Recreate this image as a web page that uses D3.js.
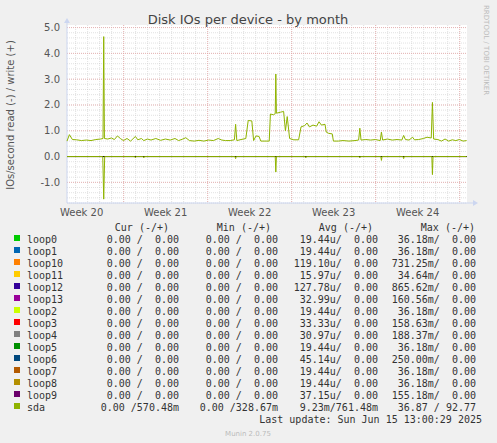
<!DOCTYPE html>
<html>
<head>
<meta charset="utf-8">
<script src="https://cdn.jsdelivr.net/npm/d3@7"></script>
<style>
  body { margin: 0; background: #f0f0f0; }
  svg { display: block; }
  .mono { font-family: "DejaVu Sans Mono", monospace; font-size: 10px; fill: #333; white-space: pre; }
</style>
</head>
<body>
<svg id="chart" width="497" height="443"></svg>
<script>
// sda write (+) in IOs/s, [day offset, value]
const writeSeries = [
  [0,0.6],[0.2,0.85],[0.45,0.66],[0.8,0.65],[1.2,0.62],[1.6,0.64],[2.0,0.62],[2.4,0.66],[2.8,0.68],
  [3.0,0.7],[3.06,4.65],[3.12,0.7],[3.4,0.68],[3.7,0.72],[3.95,0.66],[4.2,0.8],[4.45,0.7],[4.7,0.62],
  [5.0,0.7],[5.3,0.6],[5.7,0.78],[5.9,0.65],[6.2,0.7],[6.4,0.62],[6.7,0.68],[7.0,0.64],[7.4,0.7],
  [7.8,0.63],[8.2,0.68],[8.6,0.64],[9.0,0.7],[9.3,0.62],[9.6,0.67],[9.9,0.73],[10.2,0.62],[10.6,0.6],
  [11.0,0.63],[11.4,0.6],[11.8,0.64],[12.2,0.62],[12.6,0.7],[12.9,0.64],[13.2,0.62],[13.6,0.62],
  [13.95,0.65],[14.05,1.25],[14.15,0.62],[14.5,0.66],[14.9,0.7],[15.1,1.4],[15.4,1.38],[15.55,0.62],
  [15.75,0.8],[16.0,0.78],[16.15,0.6],[16.5,0.6],[16.85,0.6],[16.95,1.65],[17.2,1.62],[17.35,1.66],
  [17.4,3.2],[17.45,1.68],[17.8,1.72],[18.05,1.75],[18.2,1.0],[18.35,1.55],[18.55,0.7],[18.9,0.65],
  [19.3,0.65],[19.5,1.15],[19.8,1.2],[20.0,1.3],[20.2,1.15],[20.5,1.22],[20.8,1.18],[21.0,1.35],
  [21.2,1.22],[21.5,1.25],[21.6,0.95],[21.8,0.9],[22.1,0.88],[22.2,0.6],[22.6,0.6],[23.0,0.62],
  [23.5,0.6],[24.0,0.62],[24.3,0.64],[24.4,1.1],[24.5,0.64],[24.9,0.66],[25.3,0.64],[25.7,0.66],
  [26.1,0.62],[26.2,0.95],[26.3,0.64],[26.7,0.68],[27.1,0.64],[27.5,0.66],[27.9,0.64],[28.05,0.82],
  [28.2,0.66],[28.5,0.64],[28.8,0.75],[28.95,0.65],[29.3,0.66],[29.7,0.7],[30.0,0.75],[30.35,0.72],
  [30.45,2.1],[30.55,0.68],[30.9,0.66],[31.2,0.6],[31.5,0.68],[31.8,0.6],[32.1,0.65],[32.4,0.62],
  [32.7,0.66],[33.0,0.6],[33.3,0.62]
];
// sda read (-) in IOs/s, [day offset, value]
const readSeries = [
  [0,0],[2.98,0],[3.06,-1.65],[3.14,0],[5.65,0],[5.7,-0.05],[5.75,0],[6.35,0],[6.4,-0.05],[6.45,0],
  [14.0,0],[14.05,-0.08],[14.1,0],[17.35,0],[17.4,-0.6],[17.45,0],[19.85,0],[19.9,-0.05],[19.95,0],
  [24.35,0],[24.4,-0.05],[24.45,0],[26.15,0],[26.2,-0.15],[26.25,0],[28.0,0],[28.05,-0.08],[28.1,0],
  [30.4,0],[30.45,-0.7],[30.5,0],[33.3,0]
];
const weekLabels = ['Week 20', 'Week 21', 'Week 22', 'Week 23', 'Week 24'];
const yTicks = [-1, 0, 1, 2, 3, 4, 5];

const devices = ['loop0','loop1','loop10','loop11','loop12','loop13','loop2','loop3','loop4','loop5','loop6','loop7','loop8','loop9','sda'];
const deviceColors = ['#00cc00','#0066b3','#ff8000','#ffcc00','#330099','#990099','#ccff00','#ff0000','#808080','#008f00','#00487d','#b35a00','#b38f00','#6b006b','#8fb300'];
const curCol = ['0.00 /  0.00','0.00 /  0.00','0.00 /  0.00','0.00 /  0.00','0.00 /  0.00','0.00 /  0.00','0.00 /  0.00','0.00 /  0.00','0.00 /  0.00','0.00 /  0.00','0.00 /  0.00','0.00 /  0.00','0.00 /  0.00','0.00 /  0.00','0.00 /570.48m'];
const minCol = ['0.00 /  0.00','0.00 /  0.00','0.00 /  0.00','0.00 /  0.00','0.00 /  0.00','0.00 /  0.00','0.00 /  0.00','0.00 /  0.00','0.00 /  0.00','0.00 /  0.00','0.00 /  0.00','0.00 /  0.00','0.00 /  0.00','0.00 /  0.00','0.00 /328.67m'];
const avgCol = ['19.44u/  0.00','19.44u/  0.00','119.10u/  0.00','15.97u/  0.00','127.78u/  0.00','32.99u/  0.00','19.44u/  0.00','33.33u/  0.00','30.97u/  0.00','19.44u/  0.00','45.14u/  0.00','19.44u/  0.00','19.44u/  0.00','37.15u/  0.00','9.23m/761.48m'];
const maxCol = ['36.18m/  0.00','36.18m/  0.00','731.25m/  0.00','34.64m/  0.00','865.62m/  0.00','160.56m/  0.00','36.18m/  0.00','158.63m/  0.00','188.37m/  0.00','36.18m/  0.00','250.00m/  0.00','36.18m/  0.00','36.18m/  0.00','155.18m/  0.00','36.87 / 92.77'];

const svg = d3.select('#chart');
const pLeft = 67, pRight = 467, pTop = 25, pBottom = 203;
const x = d3.scaleLinear().domain([0, 33.33]).range([pLeft, pRight]);
const y = d3.scaleLinear().domain([-1.8, 5.1]).range([pBottom, 25]);
const weekStart = -2.28;

svg.append('rect').attr('x', pLeft).attr('y', pTop).attr('width', pRight - pLeft).attr('height', pBottom - pTop).attr('fill', '#fff');

// minor grid
const g = svg.append('g');
for (let d = weekStart + 1; d < 33.33; d += 1) {
  if (d <= 0) continue;
  g.append('line').attr('x1', x(d)).attr('x2', x(d)).attr('y1', pTop).attr('y2', pBottom)
    .attr('stroke', '#ccc').attr('stroke-width', 0.6).attr('stroke-dasharray', '1,1');
}
for (let v = -1.8; v <= 5.01; v += 0.2) {
  g.append('line').attr('x1', pLeft).attr('x2', pRight).attr('y1', y(v)).attr('y2', y(v))
    .attr('stroke', '#ccc').attr('stroke-width', 0.6).attr('stroke-dasharray', '1,1');
}
// major grid
weekLabels.forEach((w, i) => {
  const d = weekStart + 7 * (i + 1);
  g.append('line').attr('x1', x(d)).attr('x2', x(d)).attr('y1', pTop).attr('y2', pBottom)
    .attr('stroke', '#e8a0a0').attr('stroke-width', 0.7).attr('stroke-dasharray', '1,1');
});
yTicks.forEach(v => {
  g.append('line').attr('x1', pLeft).attr('x2', pRight).attr('y1', y(v)).attr('y2', y(v))
    .attr('stroke', '#e8a0a0').attr('stroke-width', 0.7).attr('stroke-dasharray', '1,1');
});

// axes with arrows
svg.append('line').attr('x1', pLeft).attr('x2', pRight + 8).attr('y1', pBottom).attr('y2', pBottom).attr('stroke', '#ccd6f0');
svg.append('line').attr('x1', pLeft).attr('x2', pLeft).attr('y1', pBottom).attr('y2', pTop - 5).attr('stroke', '#ccd6f0');
svg.append('path').attr('d', `M${pRight + 6},${pBottom - 3}L${pRight + 11},${pBottom}L${pRight + 6},${pBottom + 3}Z`).attr('fill', '#ccd6f0');
svg.append('path').attr('d', `M${pLeft - 3},${pTop - 2}L${pLeft},${pTop - 7}L${pLeft + 3},${pTop - 2}Z`).attr('fill', '#ccd6f0');

const tickFont = '"DejaVu Sans", sans-serif';
yTicks.forEach(v => {
  svg.append('text').attr('x', pLeft - 7).attr('y', y(v) + 3.5).attr('text-anchor', 'end')
    .attr('font-family', tickFont).attr('font-size', 10).attr('fill', '#555').text(v.toFixed(1));
});
weekLabels.forEach((w, i) => {
  svg.append('text').attr('x', x(weekStart + 3.5 + 7 * i)).attr('y', 216).attr('text-anchor', 'middle')
    .attr('font-family', tickFont).attr('font-size', 10).attr('fill', '#555').text(w);
});

// zero line
svg.append('line').attr('x1', pLeft).attr('x2', pRight).attr('y1', y(0)).attr('y2', y(0)).attr('stroke', '#000');

const line = d3.line().x(d => x(d[0])).y(d => y(d[1]));
svg.append('path').datum(writeSeries).attr('d', line).attr('fill', 'none').attr('stroke', '#8fb300').attr('stroke-width', 1);
svg.append('path').datum(readSeries).attr('d', line).attr('fill', 'none').attr('stroke', '#8fb300').attr('stroke-width', 1);

// titles
svg.append('text').attr('x', 248).attr('y', 24).attr('text-anchor', 'middle')
  .attr('font-family', tickFont).attr('font-size', 13).attr('fill', '#444').text('Disk IOs per device - by month');
svg.append('text').attr('transform', 'translate(14,115) rotate(-90)').attr('text-anchor', 'middle')
  .attr('font-family', tickFont).attr('font-size', 10).attr('fill', '#555').text('IOs/second read (-) / write (+)');
svg.append('text').attr('transform', 'translate(484,5) rotate(90)').attr('text-anchor', 'start')
  .attr('font-family', tickFont).attr('font-size', 7).attr('fill', '#bbb').text('RRDTOOL / TOBI OETIKER');

// legend
const hdrY = 231;
[['Cur (-/+)', 169], ['Min (-/+)', 271], ['Avg (-/+)', 373], ['Max (-/+)', 475]].forEach(h => {
  svg.append('text').attr('class', 'mono').attr('x', h[1]).attr('y', hdrY).attr('text-anchor', 'end').text(h[0]);
});
devices.forEach((dev, i) => {
  const ry = 243 + i * 12;
  svg.append('rect').attr('x', 14).attr('y', ry - 8).attr('width', 6).attr('height', 6).attr('fill', deviceColors[i]);
  svg.append('text').attr('class', 'mono').attr('x', 27).attr('y', ry).text(dev);
  svg.append('text').attr('class', 'mono').attr('x', 179).attr('y', ry).attr('text-anchor', 'end').text(curCol[i]);
  svg.append('text').attr('class', 'mono').attr('x', 278).attr('y', ry).attr('text-anchor', 'end').text(minCol[i]);
  svg.append('text').attr('class', 'mono').attr('x', 378).attr('y', ry).attr('text-anchor', 'end').text(avgCol[i]);
  svg.append('text').attr('class', 'mono').attr('x', 476).attr('y', ry).attr('text-anchor', 'end').text(maxCol[i]);
});
svg.append('text').attr('class', 'mono').attr('x', 482).attr('y', 423).attr('text-anchor', 'end').text('Last update: Sun Jun 15 13:00:29 2025');
svg.append('text').attr('x', 248).attr('y', 436).attr('text-anchor', 'middle')
  .attr('font-family', tickFont).attr('font-size', 7).attr('fill', '#bbb').text('Munin 2.0.75');
</script>
</body>
</html>
